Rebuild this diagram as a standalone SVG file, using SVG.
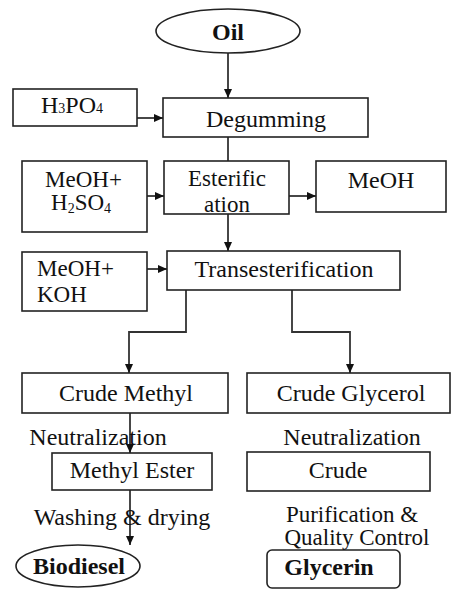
<svg xmlns="http://www.w3.org/2000/svg" width="452" height="591" viewBox="0 0 452 591">
<defs>
<marker id="ah" markerUnits="userSpaceOnUse" markerWidth="10" markerHeight="10" refX="9" refY="5" orient="auto">
<path d="M0,1 L9,5 L0,9 Z" fill="#111"/>
</marker>
<style>
.b{fill:#fff;stroke:#222;stroke-width:1.6}
.c{fill:none;stroke:#333;stroke-width:1.8}
.a{marker-end:url(#ah)}
text{font-family:'Liberation Serif',serif;font-size:24px;fill:#111}
.bd{font-weight:bold}
.m{text-anchor:middle}
.s23{font-size:23px}
</style>
</defs>
<rect width="452" height="591" fill="#fff"/>
<g id="connectors">
<line class="c a" x1="228" y1="53" x2="228" y2="98"/>
<line class="c a" x1="137" y1="118" x2="163" y2="118"/>
<line class="c" x1="228" y1="137" x2="228" y2="161"/>
<line class="c a" x1="147" y1="196" x2="164" y2="196"/>
<line class="c a" x1="289" y1="196" x2="316" y2="196"/>
<line class="c a" x1="228" y1="214" x2="228" y2="251"/>
<line class="c a" x1="147" y1="269" x2="167" y2="269"/>
<polyline class="c a" points="186,290 186,332 129,332 129,373"/>
<polyline class="c a" points="292,290 292,332 350,332 350,373"/>
<line class="c a" x1="130" y1="413" x2="130" y2="453"/>
<line class="c a" x1="130" y1="490" x2="130" y2="545"/>
</g>
<g id="oil"><ellipse class="b" cx="228" cy="31" rx="72" ry="22"/><text class="bd m" x="228" y="40">Oil</text></g>
<g id="h3po4"><rect class="b" x="13" y="89" width="124" height="37"/><text x="41" y="113">H<tspan font-size="14">3</tspan>PO<tspan font-size="14">4</tspan></text></g>
<g id="degumming"><rect class="b" x="163" y="98" width="205" height="39"/><text class="m" x="266" y="127">Degumming</text></g>
<g id="meoh-h2so4"><rect class="b" x="22" y="161" width="125" height="71"/><text class="s23" x="45" y="187">MeOH+</text><text class="s23" x="51" y="210">H<tspan font-size="14" dy="3">2</tspan><tspan dy="-3">SO</tspan><tspan font-size="14" dy="3">4</tspan></text></g>
<g id="esterification"><rect class="b" x="164" y="161" width="125" height="53"/><text class="s23 m" x="227" y="186">Esterific</text><text class="s23 m" x="227" y="212">ation</text></g>
<g id="meoh"><rect class="b" x="316" y="161" width="130" height="51"/><text class="m" x="381" y="188">MeOH</text></g>
<g id="meoh-koh"><rect class="b" x="22" y="252" width="125" height="59"/><text class="s23" x="37" y="276">MeOH+</text><text class="s23" x="37" y="302">KOH</text></g>
<g id="transesterification"><rect class="b" x="167" y="251" width="233" height="39"/><text class="m" x="284" y="277">Transesterification</text></g>
<g id="crude-methyl"><rect class="b" x="22" y="373" width="206" height="40"/><text class="m" x="126" y="401">Crude Methyl</text></g>
<g id="crude-glycerol"><rect class="b" x="247" y="373" width="203" height="40"/><text class="m" x="351" y="401">Crude Glycerol</text></g>
<g id="neutralization-left"><text class="m" x="98" y="445">Neutralization</text></g>
<g id="neutralization-right"><text class="m" x="352" y="445">Neutralization</text></g>
<g id="methyl-ester"><rect class="b" x="52" y="453" width="160" height="37"/><text class="m" x="132" y="478">Methyl Ester</text></g>
<g id="crude"><rect class="b" x="247" y="452" width="183" height="39"/><text class="m" x="338" y="478">Crude</text></g>
<g id="washing"><text class="m" x="122" y="525">Washing &amp; drying</text></g>
<g id="purification"><text class="s23 m" x="352" y="522">Purification &amp;</text><text class="s23 m" x="357" y="545">Quality Control</text></g>
<g id="biodiesel"><ellipse class="b" cx="78" cy="566" rx="62" ry="21"/><text class="bd m" x="79" y="574">Biodiesel</text></g>
<g id="glycerin"><rect class="b" x="267" y="550" width="133" height="38" rx="5"/><text class="bd m" x="329" y="575">Glycerin</text></g>
</svg>
